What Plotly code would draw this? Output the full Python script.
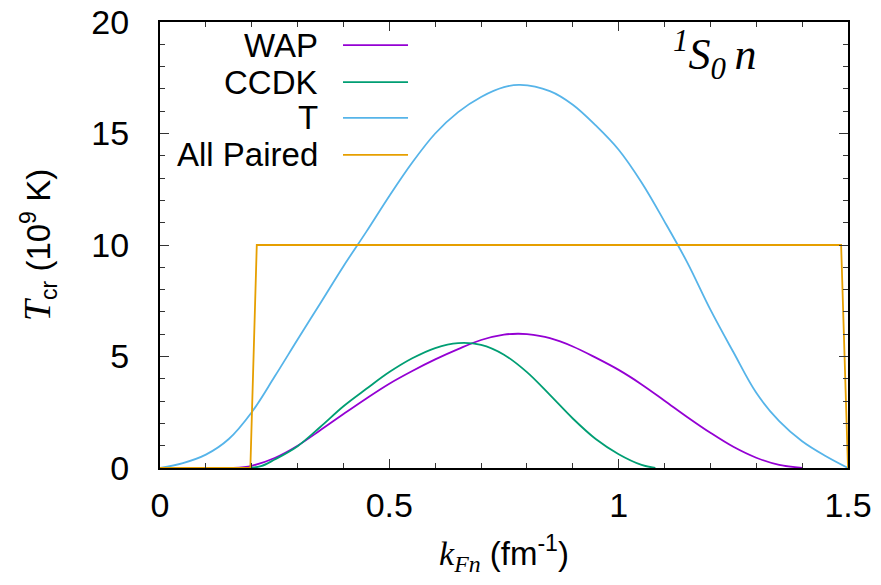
import plotly.graph_objects as go

# ---- data ----
t_x = [0, 0.05, 0.1, 0.15, 0.2, 0.25, 0.3, 0.35, 0.4, 0.45, 0.5, 0.55, 0.6, 0.65, 0.7,
       0.75, 0.785, 0.85, 0.9, 0.95, 1.0, 1.05, 1.1, 1.15, 1.2, 1.25, 1.3, 1.35, 1.4, 1.45, 1.5]
t_y = [0, 0.22, 0.6, 1.3, 2.5, 4.1, 5.76, 7.4, 9.05, 10.6, 12.2, 13.7, 15.0, 15.96, 16.64,
       17.08, 17.18, 16.9, 16.29, 15.36, 14.27, 12.8, 11.05, 9.2, 7.1, 5.2, 3.37, 2.1, 1.2, 0.55, 0]

wap_x = [0.16, 0.2, 0.25, 0.3, 0.35, 0.4, 0.45, 0.5, 0.55, 0.6, 0.65, 0.7, 0.75, 0.78, 0.8,
         0.85, 0.9, 0.95, 1.0, 1.05, 1.1, 1.15, 1.2, 1.25, 1.3, 1.35, 1.4]
wap_y = [0, 0.1, 0.45, 1.0, 1.7, 2.42, 3.12, 3.78, 4.35, 4.87, 5.33, 5.74, 5.98, 6.02, 6.0,
         5.82, 5.45, 4.95, 4.4, 3.75, 3.02, 2.28, 1.58, 0.95, 0.46, 0.14, 0.01]

ccdk_x = [0.19, 0.22, 0.25, 0.3, 0.35, 0.4, 0.45, 0.5, 0.55, 0.6, 0.65, 0.7, 0.75, 0.8,
          0.85, 0.9, 0.95, 1.0, 1.05, 1.08]
ccdk_y = [0, 0.08, 0.38, 0.98, 1.85, 2.77, 3.55, 4.3, 4.92, 5.38, 5.6, 5.52, 5.08, 4.3,
          3.28, 2.22, 1.3, 0.62, 0.14, 0]

ap_x = [0, 0.197, 0.211, 1.485, 1.5]
ap_y = [0, 0, 10, 10, 0]

names = ["WAP", "CCDK", "T", "All Paired"]
colors = ["#9400d3", "#009e73", "#56b4e9", "#e69f00"]

x_ticks = [0, 0.5, 1, 1.5]
x_tick_text = ["0", "0.5", "1", "1.5"]
y_ticks = [0, 5, 10, 15, 20]

SANS = "Liberation Sans, Arial, sans-serif"
SERIF = "Liberation Serif, Times New Roman, serif"

fig = go.Figure()
series = [(wap_x, wap_y, "spline"), (ccdk_x, ccdk_y, "spline"), (t_x, t_y, "spline"), (ap_x, ap_y, "linear")]
for (xs, ys, shp), nm, c in zip(series, names, colors):
    line = dict(color=c, width=1.8, shape=shp)
    if shp == "spline":
        line["smoothing"] = 1.0
    fig.add_trace(go.Scatter(x=xs, y=ys, mode="lines", name=nm, line=line, showlegend=False))

# manual gnuplot-style legend (text left, sample right)
row_y = [0.948, 0.865, 0.785, 0.702]
for nm, c, ry in zip(names, colors, row_y):
    fig.add_annotation(x=0.2326, y=ry, xref="paper", yref="paper", text=nm, showarrow=False,
                       xanchor="right", yanchor="middle", font=dict(family=SANS, size=33, color="black"))
    fig.add_shape(type="line", xref="paper", yref="paper", x0=0.266, x1=0.3605, y0=ry, y1=ry,
                  line=dict(color=c, width=1.8))

fig.add_annotation(x=0.87, y=0.925, xref="paper", yref="paper",
                   text="<i><sup>1</sup>S<sub>0</sub>\u2009n</i>", showarrow=False,
                   xanchor="right", yanchor="middle", font=dict(family=SERIF, size=44, color="black"))

axis_common = dict(showgrid=False, zeroline=False, showline=True, linecolor="black", linewidth=2,
                   mirror="allticks", ticks="inside", ticklen=9, tickwidth=1.3, tickcolor="#333333",
                   automargin=False,
                   tickfont=dict(family=SANS, size=34, color="black"))

fig.update_xaxes(range=[0, 1.5], tickvals=x_ticks, ticktext=x_tick_text,
                 minor=dict(dtick=0.1, ticks="inside", ticklen=5, tickcolor="#333333", tickwidth=1.3),
                 ticklabelstandoff=6,
                 title=dict(text="<i><span style='font-family:Liberation Serif;font-size:34px'>k<sub>Fn</sub></span></i> (fm<sup>-1</sup>)",
                            font=dict(family=SANS, size=33, color="black"), standoff=19),
                 **axis_common)
fig.update_yaxes(range=[0, 20], tickvals=y_ticks,
                 minor=dict(dtick=1, ticks="inside", ticklen=5, tickcolor="#333333", tickwidth=1.3),
                 ticklabelstandoff=22,
                 title=dict(text="<i><span style='font-family:Liberation Serif;font-size:38px'>T</span></i><sub>cr</sub> (10<sup>9</sup> K)",
                            font=dict(family=SANS, size=33, color="black"), standoff=31),
                 **axis_common)

fig.update_layout(width=881, height=585, margin=dict(l=160, r=33, t=22, b=117),
                  plot_bgcolor="white", paper_bgcolor="white")

fig.write_html("out.html", config={"displayModeBar": False},
               post_script="document.body.style.margin='0px';document.body.style.overflow='hidden';")
